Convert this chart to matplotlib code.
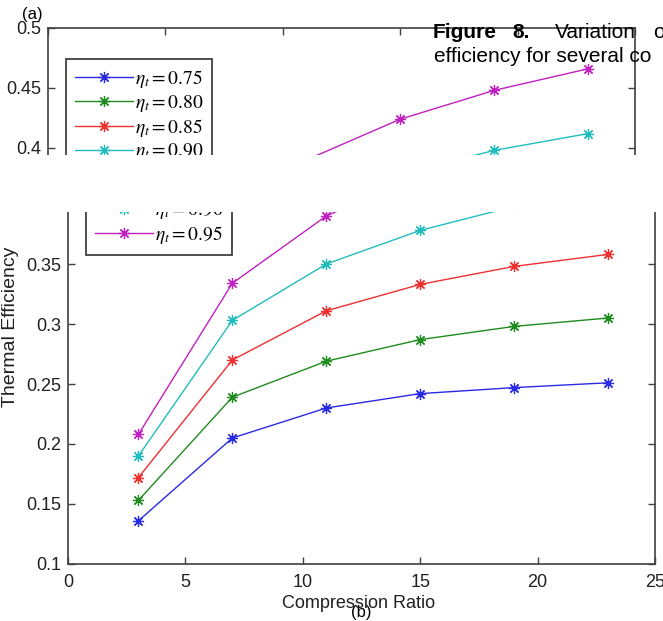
import matplotlib
matplotlib.use('Agg')
from matplotlib import pyplot as plt
from matplotlib.patches import Rectangle

# figure size in pixels
W, H = 663, 621

# data
COMPRESSION_RATIO = [3, 7, 11, 15, 19, 23]
EFF_075 = [0.136, 0.205, 0.230, 0.242, 0.247, 0.251]
EFF_080 = [0.153, 0.239, 0.269, 0.287, 0.298, 0.305]
EFF_085 = [0.172, 0.270, 0.311, 0.333, 0.348, 0.358]
EFF_090 = [0.190, 0.303, 0.350, 0.378, 0.398, 0.412]
EFF_095 = [0.208, 0.334, 0.390, 0.424, 0.448, 0.466]
SERIES = [EFF_075, EFF_080, EFF_085, EFF_090, EFF_095]
LABELS = [r'$\eta_t = 0.75$', r'$\eta_t = 0.80$', r'$\eta_t = 0.85$',
          r'$\eta_t = 0.90$', r'$\eta_t = 0.95$']
COLORS = ['#2a2ae6', '#1e8c1e', '#ee3030', '#22bcbc', '#c020c0']

X_TICKS = [0, 5, 10, 15, 20, 25]
Y_TICKS = [0.1, 0.15, 0.2, 0.25, 0.3, 0.35, 0.4, 0.45, 0.5]
Y_TICK_LABELS = ['0.1', '0.15', '0.2', '0.25', '0.3', '0.35', '0.4', '0.45', '0.5']

SPINE = '#404040'
# MATLAB style asterisk: 8 spokes
ASTERISK = (8, 2, 0)


# box given in pixel edges -> figure fraction rect
def px_box(left, top, right, bottom):
    return [left / W, 1 - bottom / H, (right - left) / W, (bottom - top) / H]


def fx(x):
    return x / W


def fy(y):
    return 1 - y / H


# draw all series and style one panel
def draw_panel(ax, ylim, spines, legend_anchor, legend_loc):
    handles = []
    for vals, lab, c in zip(SERIES, LABELS, COLORS):
        h, = ax.plot(COMPRESSION_RATIO, vals, '-', marker=ASTERISK, color=c,
                     lw=1.0, markersize=8, markeredgewidth=0.9, label=lab)
        handles.append(h)
    ax.set_xticks(X_TICKS)
    ax.set_xticklabels([str(t) for t in X_TICKS])
    ax.set_yticks(Y_TICKS)
    ax.set_yticklabels(Y_TICK_LABELS)
    # limits after ticks so they are not widened
    ax.set_xlim(0, 25)
    ax.set_ylim(*ylim)
    for side in ['top', 'bottom', 'left', 'right']:
        ax.spines[side].set_visible(side in spines)
        ax.spines[side].set_color(SPINE)
        ax.spines[side].set_linewidth(1.2)
    ax.tick_params(direction='in', length=5, width=1.0, color=SPINE,
                   labelsize=13, labelcolor='#202020',
                   top='top' in spines, bottom='bottom' in spines,
                   labeltop=False, labelbottom='bottom' in spines,
                   left=True, right=True, labelleft=True, labelright=False)
    ax.tick_params(axis='x', pad=7)
    ax.tick_params(axis='y', pad=5)
    leg = ax.legend(handles=handles, loc=legend_loc,
                    bbox_to_anchor=legend_anchor,
                    bbox_transform=ax.figure.transFigure, borderaxespad=0,
                    fancybox=False, framealpha=1, edgecolor=SPINE,
                    fontsize=14, handlelength=3.0, handletextpad=0.1,
                    labelspacing=0.15, borderpad=0.45)
    leg.get_frame().set_linewidth(1.3)


def main():
    plt.rcParams['font.family'] = ['Liberation Sans', 'DejaVu Sans']
    plt.rcParams['mathtext.fontset'] = 'stix'

    fig = plt.figure(figsize=(W / 100, H / 100), dpi=100)

    # lower panel (b)
    ax_b = fig.add_axes(px_box(68, 212, 655, 564), zorder=0)
    draw_panel(ax_b, (0.1, 0.1 + 352 / 1200), ['bottom', 'left', 'right'],
               (fx(86), fy(255)), 'lower left')

    # upper panel (a), cropped
    ax_a = fig.add_axes(px_box(48, 28, 635, 155), zorder=1)
    ax_a.set_facecolor('white')
    draw_panel(ax_a, (0.5 - 127 / 1200, 0.5), ['top', 'left', 'right'],
               (fx(66), fy(59)), 'upper left')

    # blank band between the two cropped panels
    fig.patches.append(Rectangle((0, fy(212)), 1, (212 - 155) / H,
                                 transform=fig.transFigure, facecolor='white',
                                 edgecolor='none', zorder=10))

    # axis labels
    fig.text(fx(11), fy(327), 'Thermal Efficiency', rotation=90,
             ha='center', va='center', fontsize=14, color='#202020', zorder=11)
    fig.text(fx(359), fy(603), 'Compression Ratio', ha='center',
             va='center', fontsize=13, color='#202020', zorder=11)
    fig.text(fx(32), fy(15), '(a)', ha='center', va='center', fontsize=12,
             zorder=11)
    fig.text(fx(361), fy(613), '(b)', ha='center', va='center', fontsize=12,
             zorder=11)

    # caption fragment
    fig.text(fx(433), fy(33), 'Figure', ha='left', va='center', fontsize=15,
             fontweight='bold', zorder=11)
    fig.text(fx(512), fy(33), '8.', ha='left', va='center', fontsize=15,
             fontweight='bold', zorder=11)
    fig.text(fx(555), fy(33), 'Variation', ha='left', va='center',
             fontsize=15, zorder=11)
    fig.text(fx(653), fy(33), 'o', ha='left', va='center', fontsize=15,
             zorder=11)
    fig.text(fx(434), fy(57), 'efficiency for several co', ha='left',
             va='center', fontsize=15, zorder=11)

    fig.savefig('out.png', dpi=100)


if __name__ == '__main__':
    main()
